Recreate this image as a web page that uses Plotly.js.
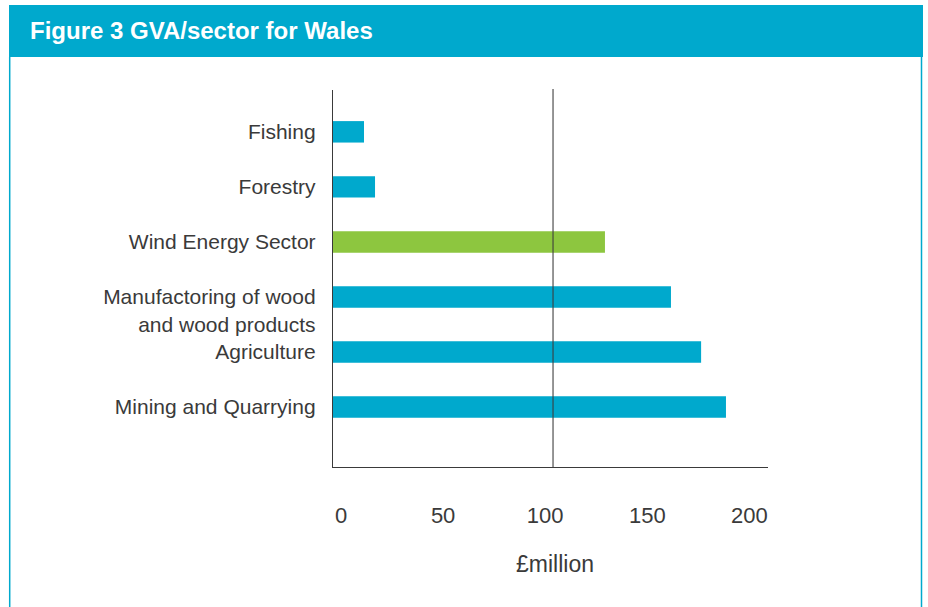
<!DOCTYPE html>
<html>
<head>
<meta charset="utf-8">
<script src="https://cdn.plot.ly/plotly-3.0.1.min.js"></script>
<style>
  html, body { margin: 0; padding: 0; background: #ffffff; }
  #chart { width: 928px; height: 607px; }
</style>
</head>
<body>
<div id="chart"></div>
<script>
// ---- data (bottom to top) ----
const sectors = [
  "Mining and Quarrying",
  "Agriculture",
  "Manufactoring of wood and wood products",
  "Wind Energy Sector",
  "Forestry",
  "Fishing"
];
const sectorLabels = [
  "Mining and Quarrying",
  "Agriculture",
  " <br>Manufactoring of wood<br>and wood products",
  "Wind Energy Sector",
  "Forestry",
  "Fishing"
];
const gvaMillion = [178.6, 167.3, 153.6, 123.6, 19.1, 14.1];
const highlightSector = "Wind Energy Sector";
const referenceValue = 100;
const xTickValues = [0, 50, 100, 150, 200];
const xTickLabels = ["0", "50", "100", "150", "200"];
const titleText = "Figure 3 GVA/sector for Wales";
const xTitleText = "£million";

// ---- styling / layout ----
const TEAL = "#00A9CD";
const GREEN = "#8DC63F";
const TEXT = "#3a3a3a";
const FONT = "Liberation Sans, Arial, sans-serif";

const W = 928, H = 607;
const M = { l: 333, r: 160, t: 90, b: 140 };
const plotW = W - M.l - M.r;
const plotH = H - M.t - M.b;
const px2x = px => (px - M.l) / plotW;
const py2y = py => (H - M.b - py) / plotH;

const barColors = sectors.map(s => s === highlightSector ? GREEN : TEAL);

const traces = [
  {
    type: "bar",
    orientation: "h",
    y: sectors,
    x: gvaMillion,
    marker: { color: barColors, line: { width: 0 } },
    width: 0.39,
    hoverinfo: "x+y"
  },
  {
    type: "scatter",
    mode: "markers",
    x: [],
    y: [],
    xaxis: "x2",
    yaxis: "y",
    showlegend: false,
    hoverinfo: "skip"
  }
];

const layout = {
  width: W,
  height: H,
  margin: M,
  paper_bgcolor: "#ffffff",
  plot_bgcolor: "#ffffff",
  showlegend: false,
  font: { family: FONT, color: TEXT, size: 21 },
  title: {
    text: "<b>" + titleText + "</b>",
    font: { family: FONT, size: 24, color: "#ffffff" },
    x: 30 / W,
    xanchor: "left",
    xref: "container",
    y: 1 - 31 / H,
    yanchor: "middle",
    yref: "container"
  },
  xaxis: {
    range: [0, 197.7],
    showgrid: false,
    zeroline: false,
    showline: true,
    linecolor: "#3a3a3a",
    linewidth: 1.2,
    ticks: "",
    showticklabels: false,
    fixedrange: true
  },
  xaxis2: {
    overlaying: "x",
    anchor: "y",
    side: "bottom",
    range: [-3.92, 209.1],
    tickmode: "array",
    tickvals: xTickValues,
    ticktext: xTickLabels,
    showgrid: false,
    zeroline: false,
    showline: false,
    ticks: "",
    ticklabelstandoff: 33,
    tickfont: { family: FONT, size: 22, color: TEXT },
    fixedrange: true
  },
  yaxis: {
    type: "category",
    categoryorder: "array",
    categoryarray: sectors,
    tickmode: "array",
    tickvals: sectors,
    ticktext: sectorLabels,
    range: [-1.09, 5.76],
    showgrid: false,
    zeroline: false,
    showline: true,
    linecolor: "#3a3a3a",
    linewidth: 1.2,
    ticks: "",
    ticklabelstandoff: 12,
    tickfont: { family: FONT, size: 21, color: TEXT },
    fixedrange: true
  },
  shapes: [
    // header band
    {
      type: "rect", xref: "paper", yref: "paper", layer: "below",
      x0: px2x(9), x1: px2x(923), y0: py2y(57), y1: py2y(5),
      fillcolor: TEAL, line: { width: 0 }
    },
    // frame sides
    {
      type: "line", xref: "paper", yref: "paper", layer: "below",
      x0: px2x(9.7), x1: px2x(9.7), y0: py2y(57), y1: py2y(607),
      line: { color: TEAL, width: 1.5 }
    },
    {
      type: "line", xref: "paper", yref: "paper", layer: "below",
      x0: px2x(921.5), x1: px2x(921.5), y0: py2y(57), y1: py2y(607),
      line: { color: TEAL, width: 1.5 }
    },
    // reference line at 100
    {
      type: "line", xref: "x", yref: "paper", layer: "above",
      x0: referenceValue, x1: referenceValue, y0: 0, y1: py2y(89),
      line: { color: "rgba(60,60,60,0.72)", width: 1.5 }
    }
  ],
  annotations: [
    {
      text: xTitleText,
      xref: "paper", yref: "paper",
      x: px2x(555), y: py2y(564),
      xanchor: "center", yanchor: "middle",
      showarrow: false,
      font: { family: FONT, size: 23, color: TEXT }
    }
  ]
};

Plotly.newPlot("chart", traces, layout, { displayModeBar: false, staticPlot: true });
</script>
</body>
</html>
